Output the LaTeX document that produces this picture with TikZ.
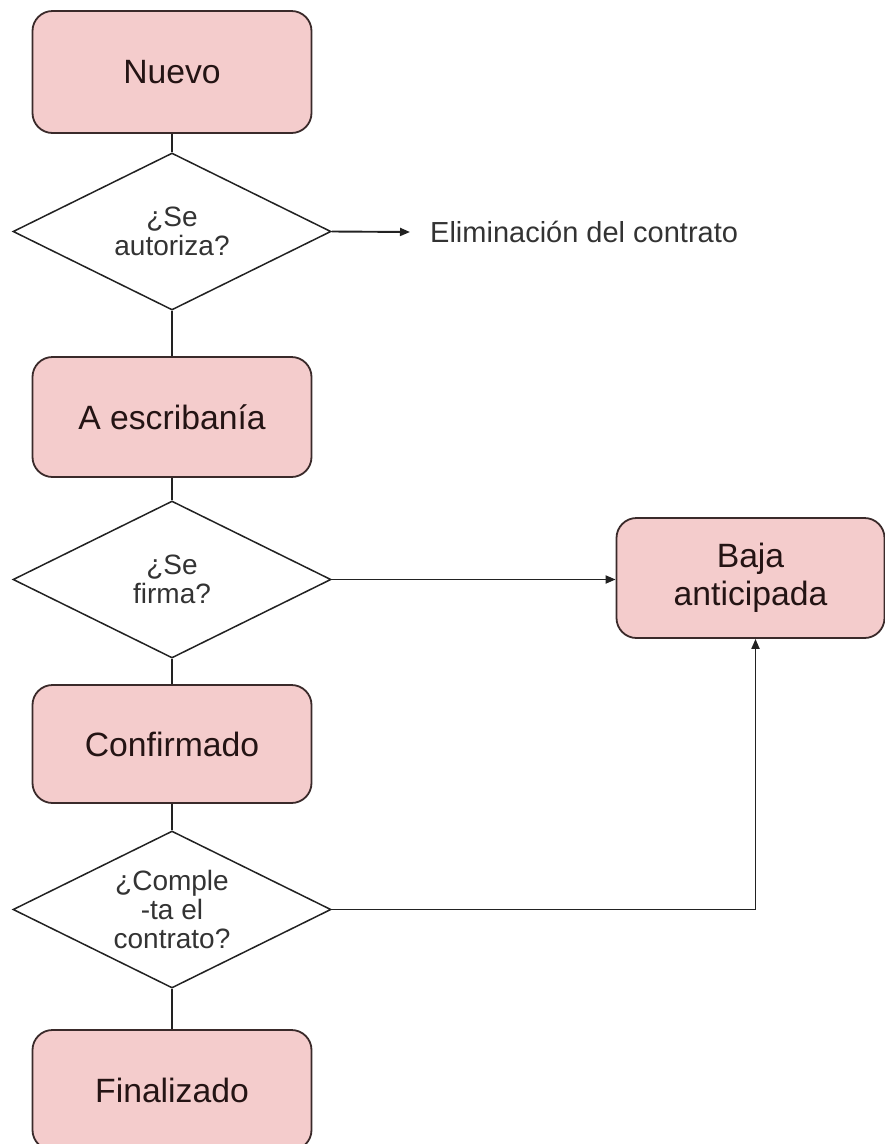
\documentclass[tikz,border=0pt]{standalone}
\usepackage{fontspec}
\setmainfont{Liberation Sans}
\usetikzlibrary{shapes.geometric,arrows.meta,calc}
\definecolor{boxfill}{HTML}{F4CCCC}
\definecolor{boxline}{HTML}{3A2A2A}
\definecolor{boxtext}{HTML}{241414}
\definecolor{dtext}{HTML}{333333}
\definecolor{conn}{HTML}{222222}
\tikzset{
  statebox/.style={rectangle, rounded corners=20pt, draw=boxline, line width=1.8pt,
    fill=boxfill, minimum width=279pt, inner sep=0pt, align=center, text=boxtext,
    font=\fontsize{33.7}{38}\selectfont},
  decision/.style={diamond, shape aspect=2, draw=conn, line width=1.5pt, fill=white,
    minimum width=318pt, minimum height=157pt, inner sep=0pt, align=center, text=dtext,
    font=\fontsize{28}{29}\selectfont},
  link/.style={draw=conn, line width=1.9pt},
  arr/.style={link, -{Triangle[length=10pt,width=8pt]}},
}
\begin{document}
\begin{tikzpicture}[x=1pt,y=-1pt]
\useasboundingbox (0,0) rectangle (885,1144);
\node[statebox, minimum height=122pt] (nuevo) at (172,72) {Nuevo};
\node[decision] (d1) at (172,231.5) {¿Se\\autoriza?};
\node[statebox, minimum height=120pt] (aesc) at (172,417) {A escribanía};
\node[decision] (d2) at (172,579.5) {¿Se\\firma?};
\node[statebox, minimum height=118pt] (conf) at (172,744) {Confirmado};
\node[decision] (d3) at (172,909.5) {¿Comple\\-ta el\\contrato?};
\node[statebox, minimum height=120pt] (fin) at (172,1090) {Finalizado};
\node[statebox, minimum width=268pt, minimum height=120pt] (baja) at (750.5,578) {Baja\\anticipada};
\node[anchor=west, inner xsep=20pt, inner ysep=0pt, text=dtext,
  font=\fontsize{29}{32}\selectfont] (elim) at (410,232) {Eliminación del contrato};
\draw[link] (nuevo.south) -- (d1.north);
\draw[link] (d1.south) -- (aesc.north);
\draw[link] (aesc.south) -- (d2.north);
\draw[link] (d2.south) -- (conf.north);
\draw[link] (conf.south) -- (d3.north);
\draw[link] (d3.south) -- (fin.north);
\draw[arr] (d1.east) -- (elim.west);
\draw[arr] (d2.east) -- (d2.east -| baja.west);
\draw[arr] (d3.east) -| ([xshift=5pt]baja.south);
\end{tikzpicture}
\end{document}
